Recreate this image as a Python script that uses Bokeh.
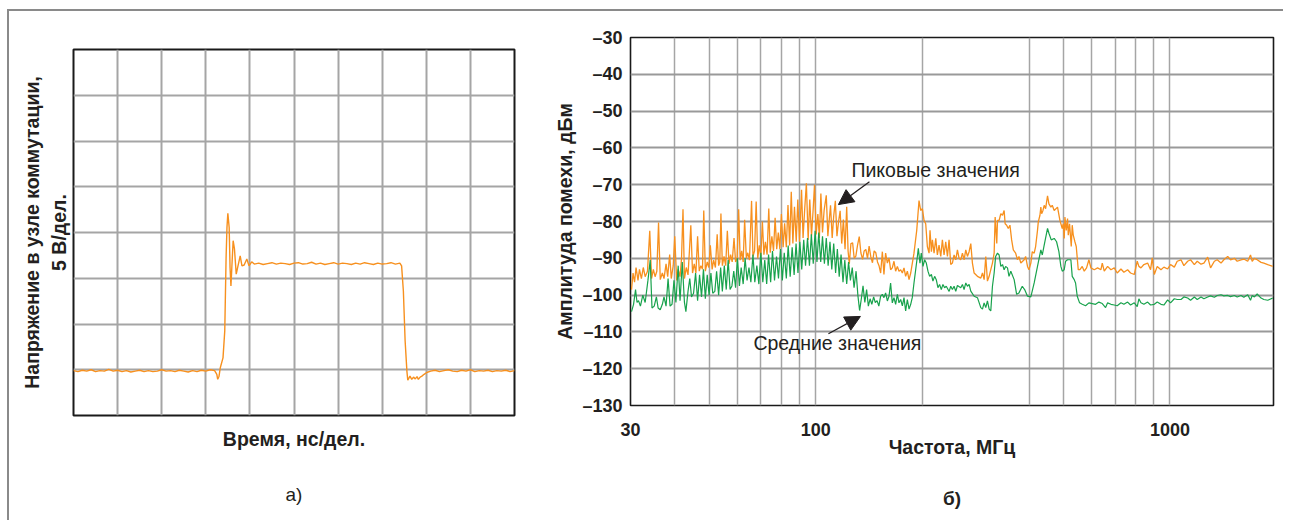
from bokeh.plotting import figure
from bokeh.models import FixedTicker, LinearAxis, Label, Arrow, NormalHead
from bokeh.layouts import row, column
from bokeh.embed import file_html
from bokeh.resources import INLINE

FONT = "Liberation Sans"
ORANGE = "#F7901E"
GREEN = "#18A24C"
GRID = "#A5A5A5"
INK = "#231F20"

# ---------------- panel a) : switching node voltage (divisions) ----------------
TIME = [0.0, 0.1, 0.2, 0.3, 0.4, 0.5, 0.6, 0.7, 0.8, 0.9, 1.0, 1.1, 1.2, 1.3, 1.4, 1.5, 1.6,
        1.7, 1.8, 1.9, 2.0, 2.1, 2.2, 2.3, 2.4, 2.5, 2.6, 2.7, 2.8, 2.9, 3.0, 3.1, 3.2,
        3.25, 3.27, 3.30, 3.33, 3.39, 3.43, 3.46, 3.48, 3.50, 3.53, 3.55, 3.57, 3.59, 3.62,
        3.65, 3.69, 3.73, 3.78, 3.82, 3.87, 3.93, 3.98, 4.04,
        4.1, 4.2, 4.3, 4.4, 4.5, 4.6, 4.7, 4.8, 4.9, 5.0, 5.1, 5.2, 5.3, 5.4, 5.5, 5.6, 5.7,
        5.8, 5.9, 6.0, 6.1, 6.2, 6.3, 6.4, 6.5, 6.6, 6.7, 6.8, 6.9, 7.0, 7.1, 7.2, 7.3, 7.4,
        7.44, 7.48, 7.52, 7.56, 7.58, 7.63, 7.67, 7.71, 7.75, 7.79, 7.82, 7.86, 7.90, 7.95, 8.01,
        8.1, 8.2, 8.3, 8.4, 8.5, 8.6, 8.7, 8.8, 8.9, 9.0, 9.1, 9.2, 9.3, 9.4, 9.5, 9.6, 9.7,
        9.8, 9.9, 10.0]
VOLT = [0.98, 0.96, 0.99, 0.97, 1.00, 0.96, 0.98, 0.97, 1.01, 0.97,
        0.99, 0.96, 0.98, 0.95, 0.97, 0.99, 0.96, 0.98, 0.96, 0.97,
        1.00, 0.97, 0.98, 0.96, 0.99, 0.97, 0.95, 0.98, 0.96, 0.99,
        0.97, 1.00, 0.98,
        0.90, 0.79, 0.86, 1.05, 1.26, 1.85, 3.45, 4.11, 4.42, 4.11, 3.23, 2.83, 3.23, 3.82,
        3.64, 3.09, 3.27, 3.49, 3.27, 3.29, 3.42, 3.27, 3.36,
        3.31, 3.33, 3.30, 3.32, 3.34, 3.31, 3.33, 3.32, 3.30, 3.33,
        3.34, 3.31, 3.32, 3.35, 3.31, 3.33, 3.30, 3.32, 3.34, 3.31,
        3.33, 3.32, 3.30, 3.33, 3.31, 3.34, 3.32, 3.30, 3.33, 3.31,
        3.32, 3.34, 3.31, 3.33,
        3.27, 2.72, 1.63, 0.97, 0.77, 0.86, 0.79, 0.84, 0.80, 0.85, 0.79, 0.84, 0.86, 0.90, 0.94,
        0.97, 0.99, 0.96, 0.98, 1.00, 0.97, 0.96, 0.99, 0.97, 1.00,
        0.96, 0.98, 0.97, 0.99, 0.96, 0.98, 0.97, 0.99, 0.96, 0.98]
X_DIV_GRID = [1, 2, 3, 4, 5, 6, 7, 8, 9]
Y_DIV_GRID = [1, 2, 3, 4, 5, 6, 7]

# ---------------- panel б) : EMI spectrum ----------------
F_PEAK = [30.2, 30.5, 30.8, 31.1, 31.5, 31.8, 32.2, 32.6, 33.0, 33.5, 34.0, 34.4, 34.8, 35.2, 35.6,
          36.0, 36.4, 36.9, 37.3, 37.8, 38.2, 38.7, 39.1, 39.6, 40.0, 40.5, 40.9, 41.4, 41.8, 42.2,
          42.6, 43.1, 43.6, 44.0, 44.4, 44.9, 45.4, 45.9, 46.4, 46.9, 47.4, 47.9, 48.3, 48.8, 49.4,
          49.9, 50.4, 51.0, 51.5, 52.1, 52.7, 53.2, 53.6, 54.0, 54.5, 55.1, 55.7, 56.3, 56.9, 57.5,
          58.1, 58.8, 59.4, 60.0, 60.6, 61.2, 61.8, 62.4, 63.0, 63.7, 64.3, 65.0, 65.9, 66.5, 67.2,
          67.9, 68.6, 69.3, 70.0, 70.7, 71.4, 72.1, 72.9, 73.7, 74.4, 75.2, 76.0, 76.8, 77.6, 78.4,
          79.2, 80.0, 80.9, 81.7, 82.6, 83.5, 84.4, 85.3, 86.2, 87.1, 88.1, 89.0, 90.0, 91.2, 92.1,
          93.1, 94.1, 95.2, 96.2, 97.3, 98.3, 99.2, 100.3, 101.4, 102.4, 103.4, 104.5, 105.6, 107.1,
          108.2, 109.1, 110.1, 111.3, 112.4, 113.6, 114.8, 116.0, 117.2, 118.4, 119.7, 121.0, 122.3,
          123.4, 124.4, 125.7, 127.1, 128.4, 129.8, 131.2, 132.7, 134.1, 135.6, 137.0, 138.5, 140.0,
          141.5, 143.0, 144.6, 146.2, 147.8, 149.4, 151.0,
          152.5, 154.2, 155.8, 157.5, 159.3, 161.0, 162.7, 164.5, 166.3, 168.1, 170.0, 171.8, 173.7,
          175.6, 177.5, 179.4, 181.4, 183.4, 185.4, 189.4, 192.8, 195.7, 197.8, 200.0, 202.2, 204.4,
          206.6, 208.9, 210.2, 212.1, 213.5, 215.8, 218.2, 220.5, 222.9, 225.4, 227.8, 230.3, 232.8,
          235.4, 237.9, 240.5, 243.1, 245.8, 248.5, 251.2, 253.9, 256.7, 259.5, 262.3, 265.2, 268.1,
          271.0, 274.0, 276.9, 280.0, 286.1, 292.4, 295.6, 298.8, 302.0, 305.3, 308.7, 312.0, 315.4,
          318.9, 321.0, 324.4, 325.9, 329.4, 333.0, 336.7, 340.3, 342.5, 345.9, 349.6, 353.4, 357.3,
          361.2, 366.7, 371.2, 374.7, 379.3, 387.6, 391.3, 396.1, 399.9, 404.8, 408.6, 413.7, 417.6,
          422.7, 424.9, 429.5, 432.0, 434.2, 438.0, 441.5, 445.6, 451.2, 455.3, 461.1, 465.2, 471.2,
          481.5, 489.0, 496.5, 499.8, 502.9, 505.2, 509.6, 513.9, 516.3, 520.7, 526.4, 529.8, 533.3,
          539.1, 543.8, 550.9, 556.9, 565.4, 572.8, 581.5, 590.4, 598.1, 611.3, 624.7, 638.4, 644.0,
          652.4, 666.7, 681.3, 696.2, 709.7, 727.1, 741.2, 759.3, 774.0, 793.0, 808.3, 817.1, 828.1,
          844.1, 864.8, 881.5, 891.1, 903.2, 920.5, 943.2, 961.2, 985.0, 1003.8, 1028.7, 1048.2,
          1074.3, 1094.7, 1121.9, 1143.2, 1171.6, 1193.8, 1223.5, 1246.7, 1277.8, 1301.9, 1334.4,
          1359.3, 1393.6, 1419.5, 1455.3, 1482.2, 1519.9, 1547.9, 1587.2, 1616.4, 1657.6, 1687.9,
          1706.3, 1731.1, 1762.9, 1807.8, 1840.8, 1888.0, 1950.5]
PEAK = [-98.5, -94.0, -96.5, -92.5, -96.0, -93.0, -95.5, -92.5, -95.0, -93.5, -82.5, -95.5, -93.0, -95.0, -93.5,
        -80.3, -95.8, -94.0, -95.5, -91.5, -95.0, -89.0, -95.5, -92.0, -84.0, -96.0, -93.0, -95.0, -90.0, -76.7,
        -95.5, -92.5, -94.5, -88.0, -81.0, -94.0, -91.5, -94.0, -84.0, -93.5, -92.0, -93.0, -77.0, -93.5, -91.0,
        -92.5, -86.5, -93.0, -90.5, -92.5, -83.5, -92.0, -91.0, -77.8, -92.0, -89.5, -92.0, -82.5, -91.5, -89.0,
        -91.0, -84.5, -91.0, -90.0, -76.7, -90.5, -88.0, -91.0, -79.5, -90.0, -88.5, -90.5, -74.4, -89.5, -88.0,
        -74.6, -90.0, -86.5, -89.5, -80.0, -89.0, -85.5, -89.0, -76.5, -88.5, -84.0, -88.0, -79.0, -87.5, -83.0,
        -87.5, -78.0, -87.0, -80.5, -87.0, -75.5, -86.5, -71.9, -86.0, -76.0, -85.5, -74.0, -85.5, -71.4, -84.5,
        -76.5, -69.6, -85.0, -74.0, -84.0, -77.0, -70.0, -83.5, -78.0, -84.5, -72.4, -83.0, -77.0, -72.9,
        -84.0, -80.0, -75.6, -84.5, -78.5, -74.4, -84.0, -80.0, -77.1, -86.0, -79.5, -87.5, -76.0,
        -88.0, -91.5, -86.0, -85.8, -90.0, -89.4, -86.5, -84.1, -88.5, -90.3, -88.0, -87.6, -90.0,
        -86.7, -89.5, -91.2, -88.0, -88.5, -91.0, -92.1,
        -94.0, -88.2, -94.4, -88.6, -91.3, -89.9, -93.1, -92.6, -90.8, -93.5, -92.2, -93.5, -93.1,
        -94.0, -92.6, -94.9, -93.5, -95.8, -94.0, -88.6, -82.4, -74.3, -77.0, -76.5, -79.7, -80.6,
        -86.8, -88.6, -82.4, -88.2, -85.0, -88.6, -84.6, -89.1, -86.4, -89.5, -85.0, -89.1, -85.5,
        -89.5, -85.0, -91.7, -91.3, -89.1, -90.4, -87.7, -90.0, -90.4, -88.6, -90.4, -87.7, -89.5,
        -88.2, -86.0, -91.3, -94.0, -94.9, -95.4, -94.0, -95.8, -89.5, -96.2, -94.9, -93.1, -91.3,
        -88.6, -78.8, -86.0, -79.7, -79.7, -77.9, -78.3, -77.0, -80.6, -81.0, -81.9, -81.0, -85.0,
        -87.7, -88.6, -90.4, -89.5, -91.3, -90.4, -89.5, -92.2, -93.1, -91.3, -88.2, -88.6, -86.8,
        -82.4, -80.1, -78.3, -76.1, -77.9, -77.0, -75.6, -76.5, -73.0, -75.2, -76.1, -75.6, -77.0,
        -76.1, -79.7, -81.9, -80.6, -84.6, -78.8, -82.4, -79.2, -83.7, -80.6, -86.8, -81.0, -83.7,
        -85.5, -86.8, -93.1, -93.1, -92.2, -93.5, -92.6, -90.4, -92.6, -93.1, -92.6, -93.1, -91.3,
        -93.5, -92.2, -93.1, -92.6, -94.0, -92.9, -93.8, -93.1, -94.0, -94.4, -90.8, -92.2, -92.6,
        -91.7, -91.3, -93.1, -89.9, -94.4, -92.2, -93.1, -92.4, -92.9, -91.7, -92.4, -90.8,
        -90.4, -92.0, -90.8, -90.4, -91.7, -90.8, -91.6, -91.3, -89.7, -92.6, -90.8,
        -90.4, -91.3, -90.4, -89.5, -90.4, -90.0, -90.8, -90.4, -90.2, -90.8, -89.1,
        -90.8, -90.0, -90.4, -91.1, -91.3, -91.7, -92.2]

F_AVG = [30.2, 30.6, 31.0, 31.3, 31.6, 32.0, 32.5, 33.0, 33.6, 34.1, 34.5, 35.0, 35.5, 35.9, 36.4,
         36.9, 37.3, 37.8, 38.3, 38.8, 39.3, 39.8, 40.3, 40.9, 41.4, 42.0, 42.6, 43.0, 43.6, 44.1,
         44.6, 45.2, 45.8, 46.4, 47.0, 47.6, 48.2, 48.8, 49.4, 50.0, 50.6, 51.2, 51.9, 52.5, 53.2,
         53.9, 54.5, 55.2, 55.9, 56.6, 57.3, 58.0, 58.7, 59.4, 60.1, 60.9, 61.6, 62.4, 63.2, 64.0,
         64.8, 65.6, 66.5, 67.3, 68.2, 69.1, 70.0, 70.9, 71.8, 72.7, 73.6, 74.6, 75.5, 76.5, 77.5,
         78.5, 79.5, 80.5, 81.5, 82.6, 83.6, 84.7, 85.8, 86.9, 88.0, 89.1, 90.2, 91.3, 92.5, 93.6,
         94.8, 96.0, 97.2, 98.4, 99.6, 100.8, 102.0, 103.3, 104.5, 105.8, 107.1, 108.4, 109.7, 111.0,
         112.4, 113.8, 115.1, 116.5, 117.9, 119.4, 120.8, 122.3, 123.8, 125.3, 126.8, 128.3, 130.0,
         131.5, 133.0, 134.5, 136.0, 137.6, 139.2, 140.8, 142.4, 144.0, 145.7, 147.3, 149.0, 150.7,
         152.5, 154.2, 155.8, 157.5, 159.3, 161.0, 162.7, 164.5, 166.3, 168.1, 170.0, 171.8, 173.7,
         175.6, 177.5, 179.4, 181.4, 183.4, 185.4, 187.3, 189.4, 191.5, 193.6, 194.8, 196.9, 198.6,
         200.8, 203.0, 205.2, 207.4, 209.7, 212.1, 214.2, 216.6, 218.9, 221.3, 223.7, 226.2, 228.6,
         231.1, 233.6, 238.0, 240.5, 243.1, 245.8, 248.5, 251.2, 256.7, 259.5, 262.3, 265.2, 268.1,
         271.0, 274.0, 280.0, 286.1, 292.4, 295.6, 298.8, 302.0, 305.3, 308.7, 312.0, 315.4, 318.9,
         322.0, 325.9, 329.4, 333.0, 336.7, 340.3, 343.6, 347.8, 351.2, 355.4, 363.2, 369.1, 374.7,
         382.9, 388.8, 396.1, 404.8, 413.7, 422.7, 432.0, 436.1, 441.5, 451.2, 455.3, 462.2, 471.2,
         478.5, 485.8, 492.1, 496.5, 502.9, 507.4, 513.9, 518.5, 525.1, 529.8, 536.7, 541.4, 547.3,
         555.7, 565.4, 577.8, 590.4, 603.4, 616.6, 630.0, 644.0, 658.0, 666.7, 681.3, 696.2, 709.7,
         727.1, 741.2, 759.3, 774.0, 793.0, 808.3, 817.1, 828.1, 844.1, 864.8, 881.5, 903.2, 920.5,
         943.2, 961.2, 985.0, 1003.8, 1028.7, 1048.2, 1074.3, 1094.7, 1121.9, 1143.2, 1171.6, 1193.8,
         1223.5, 1246.7, 1277.8, 1301.9, 1334.4, 1359.3, 1393.6, 1419.5, 1455.3, 1482.2, 1519.9,
         1547.9, 1587.2, 1616.4, 1657.6, 1687.9, 1706.3, 1731.1, 1762.9, 1807.8, 1840.8, 1888.0, 1950.5]
AVG = [-104.5, -102.5, -98.5, -102.0, -101.5, -103.0, -100.0, -102.0, -96.0, -90.5, -103.5, -103.0, -100.5, -103.5, -104.0,
       -102.5, -100.5, -103.0, -95.5, -103.0, -102.5, -96.0, -102.0, -92.0, -101.5, -91.0, -102.0, -104.5, -99.0, -95.5,
       -100.5, -99.5, -94.0, -101.5, -94.5, -100.5, -93.0, -101.0, -94.5, -100.0, -94.0, -99.5, -99.0, -93.5, -100.0,
       -92.5, -99.0, -92.0, -98.5, -90.5, -98.5, -97.5, -93.5, -98.0, -90.0, -97.5, -92.5, -97.0, -90.0, -96.0,
       -92.5, -96.5, -89.0, -96.5, -92.0, -97.0, -88.5, -96.5, -90.5, -97.0, -89.0, -96.5, -88.0, -96.0, -89.5,
       -95.5, -87.5, -96.0, -88.5, -95.5, -86.5, -95.0, -87.0, -94.5, -86.0, -94.0, -85.5, -93.0, -85.0, -92.0,
       -84.5, -92.0, -83.5, -91.5, -82.5, -91.0, -83.0, -91.0, -84.0, -91.5, -84.5, -92.0, -85.5, -93.0,
       -86.0, -94.0, -87.5, -95.0, -89.0, -96.5, -90.5, -97.0, -91.0, -96.0, -92.5, -98.0, -93.5,
       -100.0, -104.2, -101.0, -97.5, -102.0, -98.5, -103.0, -101.0, -102.5, -100.5, -102.0, -101.5, -103.0,
       -100.3, -99.8, -100.7, -99.4, -101.6, -100.3, -96.7, -102.1, -100.7, -102.5, -99.8, -102.1, -101.2,
       -102.9, -100.7, -104.3, -101.2, -103.8, -102.5, -100.7, -96.7, -93.1, -89.5, -87.3, -91.3, -88.6,
       -92.2, -90.4, -91.3, -93.5, -94.9, -94.4, -96.2, -94.9, -95.8, -98.0, -97.1, -98.5, -97.1,
       -98.0, -97.6, -99.0, -97.6, -98.5, -97.6, -99.0, -97.4, -98.0, -97.1, -98.5, -96.7, -97.6,
       -97.1, -98.9, -100.3, -100.7, -103.4, -103.8, -102.1, -103.4, -101.6, -103.8, -104.3, -97.6, -94.0,
       -89.5, -88.6, -89.1, -92.2, -91.7, -93.1, -92.2, -92.6, -94.9, -93.5, -95.8, -99.8, -99.4,
       -97.6, -98.5, -100.3, -100.5, -96.7, -92.2, -87.7, -89.1, -86.4, -81.9, -83.2, -85.0, -84.6,
       -85.5, -88.2, -92.2, -93.5, -93.1, -90.8, -90.4, -90.4, -90.4, -94.9, -95.8, -96.7, -100.3,
       -102.1, -102.5, -102.9, -102.1, -102.3, -102.5, -101.9, -102.3, -103.4, -102.1, -102.5, -102.7, -102.9,
       -102.1, -102.5, -101.9, -102.7, -102.1, -103.1, -101.0, -102.1, -102.5, -101.9, -102.7, -102.5, -101.9,
       -102.5, -102.7, -101.3, -102.1, -101.0, -101.2, -101.2, -100.5, -100.8, -101.4, -100.5, -101.2,
       -100.5, -101.0, -100.5, -100.2, -100.6, -100.1, -99.9, -100.2, -100.1, -100.4, -100.1,
       -100.5, -100.1, -100.6, -99.9, -101.4, -100.1, -100.5, -99.7, -100.8, -101.2, -101.4, -100.8]

Y_TICKS = [-30, -40, -50, -60, -70, -80, -90, -100, -110, -120, -130]
Y_TICK_LABELS = ["\u201330", "\u201340", "\u201350", "\u201360", "\u201370", "\u201380",
                 "\u201390", "\u2013100", "\u2013110", "\u2013120", "\u2013130"]
Y_GRID = [-40, -50, -60, -70, -80, -90, -100, -110, -120]
X_TICKS = [30, 100, 1000]
X_TICK_LABELS = ["30", "100", "1000"]
X_GRID = [40, 50, 60, 70, 80, 90, 100, 200, 400, 500, 600, 700, 800, 900, 1000]

assert len(TIME) == len(VOLT)
assert len(F_PEAK) == len(PEAK)
assert len(F_AVG) == len(AVG)


def bare_axis(ax, label, size="19.5px", standoff=5, style="bold"):
    ax.ticker = FixedTicker(ticks=[])
    ax.axis_line_color = None
    ax.major_tick_out = 0
    ax.major_tick_in = 0
    ax.minor_tick_out = 0
    ax.minor_tick_in = 0
    ax.major_label_standoff = 0
    ax.axis_label = label
    ax.axis_label_text_font = FONT
    ax.axis_label_text_font_style = style
    ax.axis_label_text_font_size = size
    ax.axis_label_text_color = INK
    ax.axis_label_standoff = standoff


# ---------------- figure a) ----------------
p1 = figure(width=540, height=38 + 366 + 105, x_range=(0, 10), y_range=(0, 8),
            output_backend="svg", toolbar_location=None,
            min_border_left=64, min_border_right=35, min_border_top=38, min_border_bottom=105,
            background_fill_color="white", border_fill_color="white")
p1.outline_line_color = "#1A1A1A"
p1.outline_line_width = 2
p1.xgrid.ticker = FixedTicker(ticks=X_DIV_GRID)
p1.ygrid.ticker = FixedTicker(ticks=Y_DIV_GRID)
for g in (p1.xgrid, p1.ygrid):
    g.grid_line_color = GRID
    g.grid_line_width = 2

bare_axis(p1.xaxis[0], "Время, нс/дел.", standoff=12)
bare_axis(p1.yaxis[0], "5 В/дел.", standoff=4)
outer = LinearAxis()
bare_axis(outer, "Напряжение в узле коммутации,", standoff=2)
p1.add_layout(outer, "left")
caption_a = LinearAxis()
bare_axis(caption_a, "а)", size="19px", standoff=31, style="normal")
p1.add_layout(caption_a, "below")

p1.line(TIME, VOLT, line_color=ORANGE, line_width=1.4)

# ---------------- figure б) ----------------
p2 = figure(width=734, height=26 + 368 + 115, x_axis_type="log", x_range=(30, 1960),
            y_range=(-130, -30), output_backend="svg", toolbar_location=None,
            min_border_left=81, min_border_right=10, min_border_top=26, min_border_bottom=115,
            background_fill_color="white", border_fill_color="white")
p2.outline_line_color = "#1A1A1A"
p2.outline_line_width = 1.6
p2.xgrid.ticker = FixedTicker(ticks=X_GRID)
p2.ygrid.ticker = FixedTicker(ticks=Y_GRID)
p2.xgrid.grid_line_color = GRID
p2.xgrid.grid_line_width = 1.5
p2.ygrid.grid_line_color = "#999999"
p2.ygrid.grid_line_width = 1.8

for ax in (p2.xaxis[0], p2.yaxis[0]):
    ax.axis_line_color = None
    ax.major_tick_out = 0
    ax.major_tick_in = 0
    ax.minor_tick_out = 0
    ax.minor_tick_in = 0
    ax.major_label_text_font = FONT
    ax.major_label_text_font_style = "bold"
    ax.major_label_text_font_size = "18px"
    ax.major_label_text_color = INK
    ax.axis_label_text_font = FONT
    ax.axis_label_text_font_style = "bold"
    ax.axis_label_text_font_size = "19.5px"
    ax.axis_label_text_color = INK

p2.yaxis.ticker = FixedTicker(ticks=Y_TICKS)
p2.yaxis.major_label_overrides = dict(zip(Y_TICKS, Y_TICK_LABELS))
p2.yaxis.major_label_standoff = 8
p2.yaxis.axis_label = "Амплитуда помехи, дБм"
p2.yaxis.axis_label_standoff = 3

p2.xaxis.ticker = FixedTicker(ticks=X_TICKS)
p2.xaxis.major_label_overrides = dict(zip(X_TICKS, X_TICK_LABELS))
p2.xaxis.major_label_standoff = 17
p2.xaxis.axis_label = "Частота, МГц"
p2.xaxis.axis_label_standoff = -3

caption_b = LinearAxis()
bare_axis(caption_b, "б)", size="19px", standoff=27, style="bold")
p2.add_layout(caption_b, "below")

p2.line(F_PEAK, PEAK, line_color=ORANGE, line_width=1.3)
p2.line(F_AVG, AVG, line_color=GREEN, line_width=1.2)

p2.add_layout(Label(x=126.1, y=-65.9, text="Пиковые значения", text_font=FONT,
                    text_font_size="19.5px", text_baseline="middle", text_align="left",
                    text_color=INK))
p2.add_layout(Label(x=66.7, y=-112.9, text="Средние значения", text_font=FONT,
                    text_font_size="19.5px", text_baseline="middle", text_align="left",
                    text_color=INK))
p2.add_layout(Arrow(end=NormalHead(size=15, fill_color=INK, line_color=INK),
                    x_start=141.8, y_start=-69.2, x_end=115.9, y_end=-75.4,
                    line_color=INK, line_width=1.3))
p2.add_layout(Arrow(end=NormalHead(size=15, fill_color=INK, line_color=INK),
                    x_start=108.6, y_start=-110.5, x_end=133.7, y_end=-105.8,
                    line_color=INK, line_width=1.3))

layout = row(column(p1), column(p2), margin=(9, 0, 0, 7),
             styles={"border-left": "2px solid #8A8A8A", "border-top": "2px solid #8A8A8A"})

open("out.html", "w").write(file_html(layout, INLINE))
